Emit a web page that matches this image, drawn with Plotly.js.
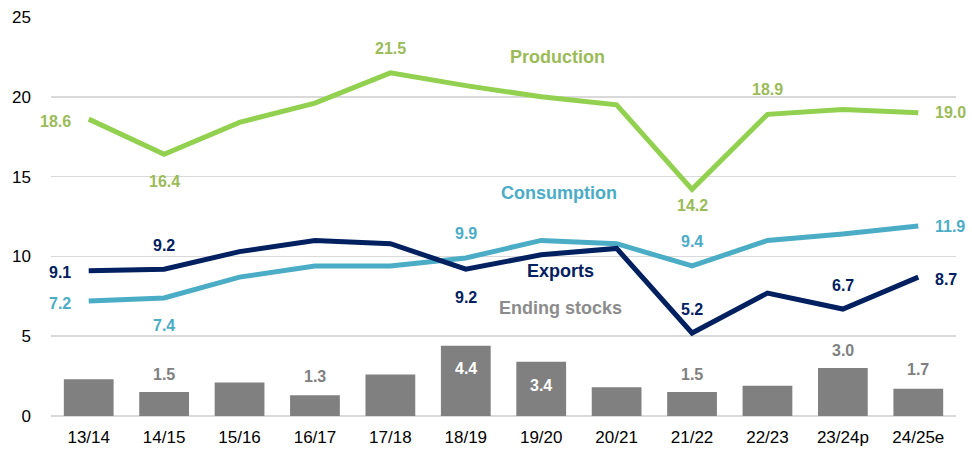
<!DOCTYPE html>
<html>
<head>
<meta charset="utf-8">
<script src="https://cdn.plot.ly/plotly-3.0.1.min.js"></script>
<style>html,body{margin:0;padding:0;background:#fff;}#chart{width:972px;height:455px;}</style>
</head>
<body>
<div id="chart"></div>
<script>
const categories = ["13/14","14/15","15/16","16/17","17/18","18/19","19/20","20/21","21/22","22/23","23/24p","24/25e"];
const production = [18.6,16.4,18.4,19.6,21.5,20.7,20.0,19.5,14.2,18.9,19.2,19.0];
const consumption = [7.2,7.4,8.7,9.4,9.4,9.9,11.0,10.8,9.4,11.0,11.4,11.9];
const exportsV = [9.1,9.2,10.3,11.0,10.8,9.2,10.1,10.5,5.2,7.7,6.7,8.7];
const endingStocks = [2.3,1.5,2.1,1.3,2.6,4.4,3.4,1.8,1.5,1.9,3.0,1.7];
const seriesNames = ["Production","Consumption","Exports","Ending stocks"];

const C = {prodLine:"#92D050", prodText:"#9BBB59", cons:"#4BACC6", exp:"#002060", bar:"#808080"};
const F = "Liberation Sans, Arial, sans-serif";

// label placement: [series, index, place, shift]
const labelSpec = [
  ["prod",0,"left",-2],["prod",1,"below",-27],["prod",4,"above",24],["prod",8,"below",-16],["prod",9,"above",25],["prod",11,"right",0],
  ["cons",0,"left",-2],["cons",1,"below",-28],["cons",5,"above",25],["cons",8,"above",24],["cons",11,"right",0],
  ["exp",0,"left",-2],["exp",1,"above",24],["exp",5,"below",-28],["exp",8,"above",24],["exp",10,"above",24],["exp",11,"right",-2],
  ["stk",1,"above",18],["stk",3,"above",19],["stk",5,"inside",-23],["stk",6,"inside",-24],["stk",8,"above",18],["stk",10,"above",18],["stk",11,"above",19]
];
const seriesMap = {
  prod:{v:production,c:C.prodText},
  cons:{v:consumption,c:C.cons},
  exp:{v:exportsV,c:C.exp},
  stk:{v:endingStocks,c:"#7F7F7F"}
};
const annotations = labelSpec.map(([s,i,p,sh])=>{
  const m = seriesMap[s];
  const a = {x:categories[i], y:m.v[i], xref:"x", yref:"y", text:m.v[i].toFixed(1), showarrow:false,
    font:{family:F,size:16,color:m.c,weight:"bold"}, yshift:sh};
  if(p==="left"){a.xanchor="right"; a.xshift=-16;}
  else if(p==="right"){a.xanchor="left"; a.xshift=15;}
  else {a.xanchor="center";}
  if(p==="inside"){a.font.color="#FFFFFF";}
  return a;
});
// series name labels
const nameColors = [C.prodText, C.cons, C.exp, "#8C8C8C"];
const namePos = [[6.22,22.5],[6.24,13.97],[6.25,9.1],[6.25,6.75]];
seriesNames.forEach((n,k)=>{
  annotations.push({x:namePos[k][0], y:namePos[k][1], xref:"x", yref:"y", text:n, showarrow:false,
    xanchor:"center", font:{family:F,size:18,color:nameColors[k],weight:"bold"}});
});

const traces = [
  {type:"bar", x:categories, y:endingStocks, name:seriesNames[3], marker:{color:C.bar}, hoverinfo:"skip"},
  {type:"scatter", mode:"lines", x:categories, y:production, name:seriesNames[0], line:{color:C.prodLine,width:5}},
  {type:"scatter", mode:"lines", x:categories, y:consumption, name:seriesNames[1], line:{color:C.cons,width:5}},
  {type:"scatter", mode:"lines", x:categories, y:exportsV, name:seriesNames[2], line:{color:C.exp,width:5}}
];

const layout = {
  width:972, height:455,
  margin:{l:51,r:16,t:17,b:39, autoexpand:false},
  paper_bgcolor:"#fff", plot_bgcolor:"#fff",
  showlegend:false,
  bargap:0.34,
  font:{family:F,size:17,color:"#000"},
  xaxis:{type:"category", automargin:false, range:[-0.5,11.5], showgrid:false, showline:false, zeroline:false, ticks:"outside", ticklen:6, tickcolor:"rgba(0,0,0,0)", tickfont:{family:F,size:17,color:"#000"}},
  yaxis:{range:[0,25], automargin:false, dtick:5, tick0:0, showgrid:true, gridcolor:"#D9D9D9", gridwidth:1.5, zeroline:true, zerolinecolor:"#D9D9D9", zerolinewidth:1.5, showline:false, ticks:"", tickfont:{family:F,size:17,color:"#000"}, ticklabelstandoff:19},
  annotations:annotations
};
Plotly.newPlot("chart", traces, layout, {staticPlot:true, displayModeBar:false});
</script>
</body>
</html>
